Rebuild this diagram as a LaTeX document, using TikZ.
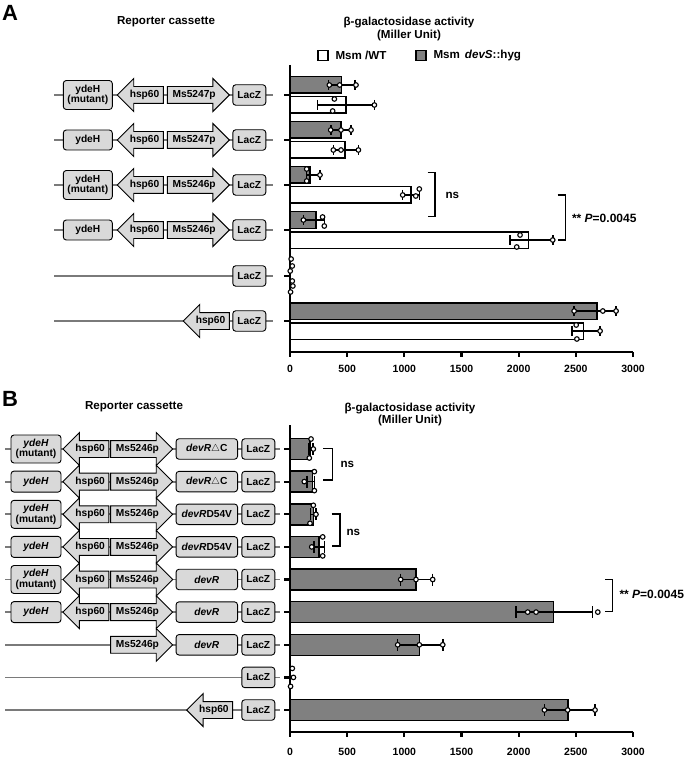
\documentclass[tikz,border=0pt]{standalone}
\usepackage{fontspec}
\setmainfont{Liberation Sans}
\usetikzlibrary{shapes.arrows, backgrounds}
\definecolor{genefill}{HTML}{D9D9D9}
\definecolor{barfill}{HTML}{808080}
\definecolor{dnaline}{HTML}{7A7A7A}
\tikzset{
    base/.style={draw=black, line width=0.9pt, fill=genefill, font=\fontsize{10.2}{10.7}\selectfont\bfseries, align=center, inner sep=0pt},
    gene/.style={base, rectangle, rounded corners=3pt},
    ydehbox/.style={gene, minimum width=49pt, minimum height=#1},
    laczbox/.style={gene, minimum width=33pt, minimum height=20.5pt},
    devrbox/.style={gene, minimum width=61.5pt, minimum height=20.5pt},
    promoter/.style={base, single arrow, single arrow head extend=8pt, text height=7pt, text depth=2pt, inner xsep=1pt, inner ysep=3.5pt, anchor=tip},
    leftprom/.style={promoter, shape border rotate=180, minimum height=46pt},
    rightprom/.style={promoter, minimum height=62pt},
    dna/.style={draw=dnaline, line width=1.8pt},
    axis/.style={draw=black, line width=2.2pt},
    barline/.style={draw=black, line width=1.6pt},
    errline/.style={draw=black, line width=1.5pt},
    dot/.style={draw=black, fill=white, line width=1.1pt},
    label/.style={font=\fontsize{11.6}{12.5}\selectfont\bfseries, align=center},
    statlabel/.style={font=\fontsize{12}{13}\selectfont\bfseries},
    ticklabel/.style={font=\fontsize{10.5}{11}\selectfont\bfseries},
    panel/.style={font=\fontsize{22}{22}\selectfont\bfseries}
}
% bar: y, mean, half height, fill
\newcommand{\actbar}[4]{\draw[barline, fill=#4] (0,#1-#3) rectangle (#2,#1+#3);}
% error bar: y, low, high, half cap
\newcommand{\errbar}[4]{\draw[errline] (#2,#1) -- (#3,#1) (#2,#1-#4) -- (#2,#1+#4) (#3,#1-#4) -- (#3,#1+#4);}
% replicate points: y, list of value/offset
\newcommand{\datapts}[2]{\foreach \v/\d in {#2} \draw[dot] (\v,#1+\d) circle (2.3pt);}

\begin{document}
\begin{tikzpicture}[x=1pt, y=-1pt]
    \useasboundingbox (0,0) rectangle (683,759);

    % ---------- panel A ----------
    \node[panel] (A) at (10,13) {A};
    \node[label] (cassA) at (166,22) {Reporter cassette};
    \node[label] (titleA) at (409,29) {β-galactosidase activity\\(Miller Unit)};

    \node[draw, line width=1.2pt, fill=white, minimum size=10pt, inner sep=0pt] (wtkey) at (323,55.5) {};
    \node[label, anchor=west] (wttext) at (332,55.5) {Msm /WT};
    \node[draw, line width=1.2pt, fill=barfill, minimum size=10pt, inner sep=0pt] (devkey) at (421,55.5) {};
    \node[label, anchor=west] (devtext) at (430,55.5) {Msm\hspace{5pt}\textit{devS}::hyg};

    \foreach \r/\y in {1/95,2/140,3/185,4/230,5/276,6/321} {
        \coordinate (sa\r) at (54,\y);
        \coordinate (ea\r) at (273,\y);
        \draw[dna] (sa\r) -- (ea\r);
    }
    % row 1
    \node[ydehbox=29pt] (ya1) at (87.8,95) {ydeH\\(mutant)};
    \node[leftprom] (ha1) at (116.7,95) {hsp60};
    \node[rightprom] (ma1) at (230,95) {Ms5247p};
    \node[laczbox] (za1) at (249.3,95) {LacZ};
    % row 2
    \node[ydehbox=20pt] (ya2) at (87.8,140) {ydeH};
    \node[leftprom] (ha2) at (116.7,140) {hsp60};
    \node[rightprom] (ma2) at (230,140) {Ms5247p};
    \node[laczbox] (za2) at (249.3,140) {LacZ};
    % row 3
    \node[ydehbox=29pt] (ya3) at (87.8,185) {ydeH\\(mutant)};
    \node[leftprom] (ha3) at (116.7,185) {hsp60};
    \node[rightprom] (ma3) at (230,185) {Ms5246p};
    \node[laczbox] (za3) at (249.3,185) {LacZ};
    % row 4
    \node[ydehbox=20pt] (ya4) at (87.8,230) {ydeH};
    \node[leftprom] (ha4) at (116.7,230) {hsp60};
    \node[rightprom] (ma4) at (230,230) {Ms5246p};
    \node[laczbox] (za4) at (249.3,230) {LacZ};
    % row 5
    \node[laczbox] (za5) at (249.3,276) {LacZ};
    % row 6
    \node[leftprom] (ha6) at (182.7,321) {hsp60};
    \node[laczbox] (za6) at (249.3,321) {LacZ};

    \begin{scope}[xshift=290pt, x=0.11433pt]
        \draw[axis] (0,65) -- (0,352) -- (3000,352);
        \foreach \c in {95,140,185,230,276,321}
            \draw[axis] (0,\c) -- ++(-6pt,0);
        \foreach \t in {0,500,...,3000} {
            \draw[axis] (\t,352) -- ++(0,5);
            \node[ticklabel] (xa\t) at (\t,369) {\t};
        }
        % row 1
        \actbar{85}{452}{8.3}{barfill} \errbar{85}{337}{567}{5} \datapts{85}{344/0,435/0,577/0}
        \actbar{105}{490}{8.3}{white} \errbar{105}{240}{738}{5} \datapts{105}{388/-6,373/6,738/0}
        % row 2
        \actbar{130}{446}{8.3}{barfill} \errbar{130}{357}{535}{5} \datapts{130}{356/0,446/0,534/0}
        \actbar{150}{481}{8.3}{white} \errbar{150}{379}{598}{5} \datapts{150}{379/0,446/0,598/0}
        % row 3
        \actbar{175}{175}{8.3}{barfill} \errbar{175}{146}{262}{5} \datapts{175}{146/-6,146/6,262/0}
        \actbar{195}{1058}{8.3}{white} \errbar{195}{986}{1131}{5} \datapts{195}{986/0,1100/1,1131/-6}
        % row 4
        \actbar{220}{225}{8.3}{barfill} \errbar{220}{117}{300}{5} \datapts{220}{117/0,285/-3,300/6}
        \actbar{240}{2085}{8.3}{white} \errbar{240}{1925}{2298}{5} \datapts{240}{2012/-5,1983/7,2298/0}
        % row 5
        \datapts{276}{10/-17,20/-10,2/-5,20/5,25/10,5/16}
        % row 6
        \actbar{311}{2683}{8.3}{barfill} \errbar{311}{2485}{2852}{5} \datapts{311}{2485/0,2736/0,2852/0}
        \actbar{331}{2566}{8.3}{white} \errbar{331}{2465}{2712}{5} \datapts{331}{2503/-6,2509/8,2712/0}
    \end{scope}

    \draw[errline] (427.7,172.7) -- (435,172.7) -- (435,216.7) -- (427.7,216.7);
    \node[label, anchor=west] (nsA) at (442,195) {ns};
    \draw[errline] (557.7,195) -- (565.7,195) -- (565.7,240) -- (557.7,240);
    \node[statlabel, anchor=west] (pA) at (568.5,218) {** \textit{P}=0.0045};

    % ---------- panel B ----------
    \node[panel] (B) at (10,399) {B};
    \node[label] (cassB) at (134,407) {Reporter cassette};
    \node[label] (titleB) at (410,414.5) {β-galactosidase activity\\(Miller Unit)};

    \foreach \r/\y in {1/449,2/481.6,3/514.3,4/546.9,5/579.5,6/612.1,7/644.8,8/677.4,9/710} {
        \coordinate (sb\r) at (5,\y);
        \coordinate (eb\r) at (280,\y);
        \draw[dna] (sb\r) -- (eb\r);
    }
    \tikzset{ydehbox/.style={gene, minimum width=50pt, minimum height=#1}}
    % rows 1-6
    \node[ydehbox=28pt] (yb1) at (36,449) {\textit{ydeH}\\(mutant)};
    \node[ydehbox=21pt] (yb2) at (36,481.6) {\textit{ydeH}};
    \node[ydehbox=28pt] (yb3) at (36,514.3) {\textit{ydeH}\\(mutant)};
    \node[ydehbox=21pt] (yb4) at (36,546.9) {\textit{ydeH}};
    \node[ydehbox=28pt] (yb5) at (36,579.5) {\textit{ydeH}\\(mutant)};
    \node[ydehbox=21pt] (yb6) at (36,612.1) {\textit{ydeH}};
    \foreach \r/\y in {1/449,2/481.6,3/514.3,4/546.9,5/579.5,6/612.1} {
        \node[leftprom] (hb\r) at (62.3,\y) {hsp60};
        \node[rightprom] (mb\r) at (173.3,\y) {Ms5246p};
    }
    \node[rightprom] (mb7) at (173.3,644.8) {Ms5246p};
    \node[devrbox] (db1) at (206.8,449) {\textit{devR}$\triangle$C};
    \node[devrbox] (db2) at (206.8,481.6) {\textit{devR}$\triangle$C};
    \node[devrbox] (db3) at (206.8,514.3) {\textit{devR}D54V};
    \node[devrbox] (db4) at (206.8,546.9) {\textit{devR}D54V};
    \node[devrbox] (db5) at (206.8,579.5) {\textit{devR}};
    \node[devrbox] (db6) at (206.8,612.1) {\textit{devR}};
    \node[devrbox] (db7) at (206.8,644.8) {\textit{devR}};
    \node[leftprom] (hb9) at (186,710) {hsp60};
    \foreach \r/\y in {1/449,2/481.6,3/514.3,4/546.9,5/579.5,6/612.1,7/644.8,8/677.4,9/710}
        \node[laczbox] (zb\r) at (258.3,\y) {LacZ};

    \begin{scope}[xshift=290pt, x=0.11433pt]
        \draw[axis] (0,425) -- (0,731.7) -- (3000,731.7);
        \foreach \c in {449,481.6,514.3,546.9,579.5,612.1,644.8,677.4,710}
            \draw[axis] (0,\c) -- ++(-6pt,0);
        \foreach \t in {0,500,...,3000} {
            \draw[axis] (\t,731.7) -- ++(0,5);
            \node[ticklabel] (xb\t) at (\t,752) {\t};
        }
        \actbar{449}{175}{10.5}{barfill} \errbar{449}{160}{200}{6} \datapts{449}{184/-10,204/0,169/9}
        \actbar{481.6}{198}{10.5}{barfill} \errbar{481.6}{150}{215}{6} \datapts{481.6}{125/0,213/-10,213/9}
        \actbar{514.3}{204}{10.5}{barfill} \errbar{514.3}{180}{228}{6} \datapts{514.3}{204/-9,227/0,175/9}
        \actbar{546.9}{256}{10.5}{barfill} \errbar{546.9}{210}{300}{6} \datapts{546.9}{190/0,286/-10,286/9}
        \actbar{579.5}{1102}{10.5}{barfill} \errbar{579.5}{968}{1248}{6} \datapts{579.5}{968/0,1102/0,1248/0}
        \actbar{612.1}{2304}{10.5}{barfill} \errbar{612.1}{1977}{2645}{6} \datapts{612.1}{2079/0,2152/0,2692/0}
        \actbar{644.8}{1131}{10.5}{barfill} \errbar{644.8}{942}{1336}{6} \datapts{644.8}{942/0,1131/0,1336/0}
        \datapts{677.4}{20/-9,30/0,5/9}
        \actbar{710}{2429}{10.5}{barfill} \errbar{710}{2225}{2668}{6} \datapts{710}{2225/0,2429/0,2668/0}
    \end{scope}

    \draw[errline] (323.3,448.3) -- (332.3,448.3) -- (332.3,480) -- (323.3,480);
    \node[label, anchor=west] (nsB1) at (337,464.3) {ns};
    \draw[errline] (331.7,514) -- (340,514) -- (340,546) -- (331.7,546);
    \node[label, anchor=west] (nsB2) at (343,532.3) {ns};
    \draw[errline] (605,579.3) -- (612.3,579.3) -- (612.3,611.7) -- (605,611.7);
    \node[statlabel, anchor=west] (pB) at (616,594.3) {** \textit{P}=0.0045};
\end{tikzpicture}
\end{document}
